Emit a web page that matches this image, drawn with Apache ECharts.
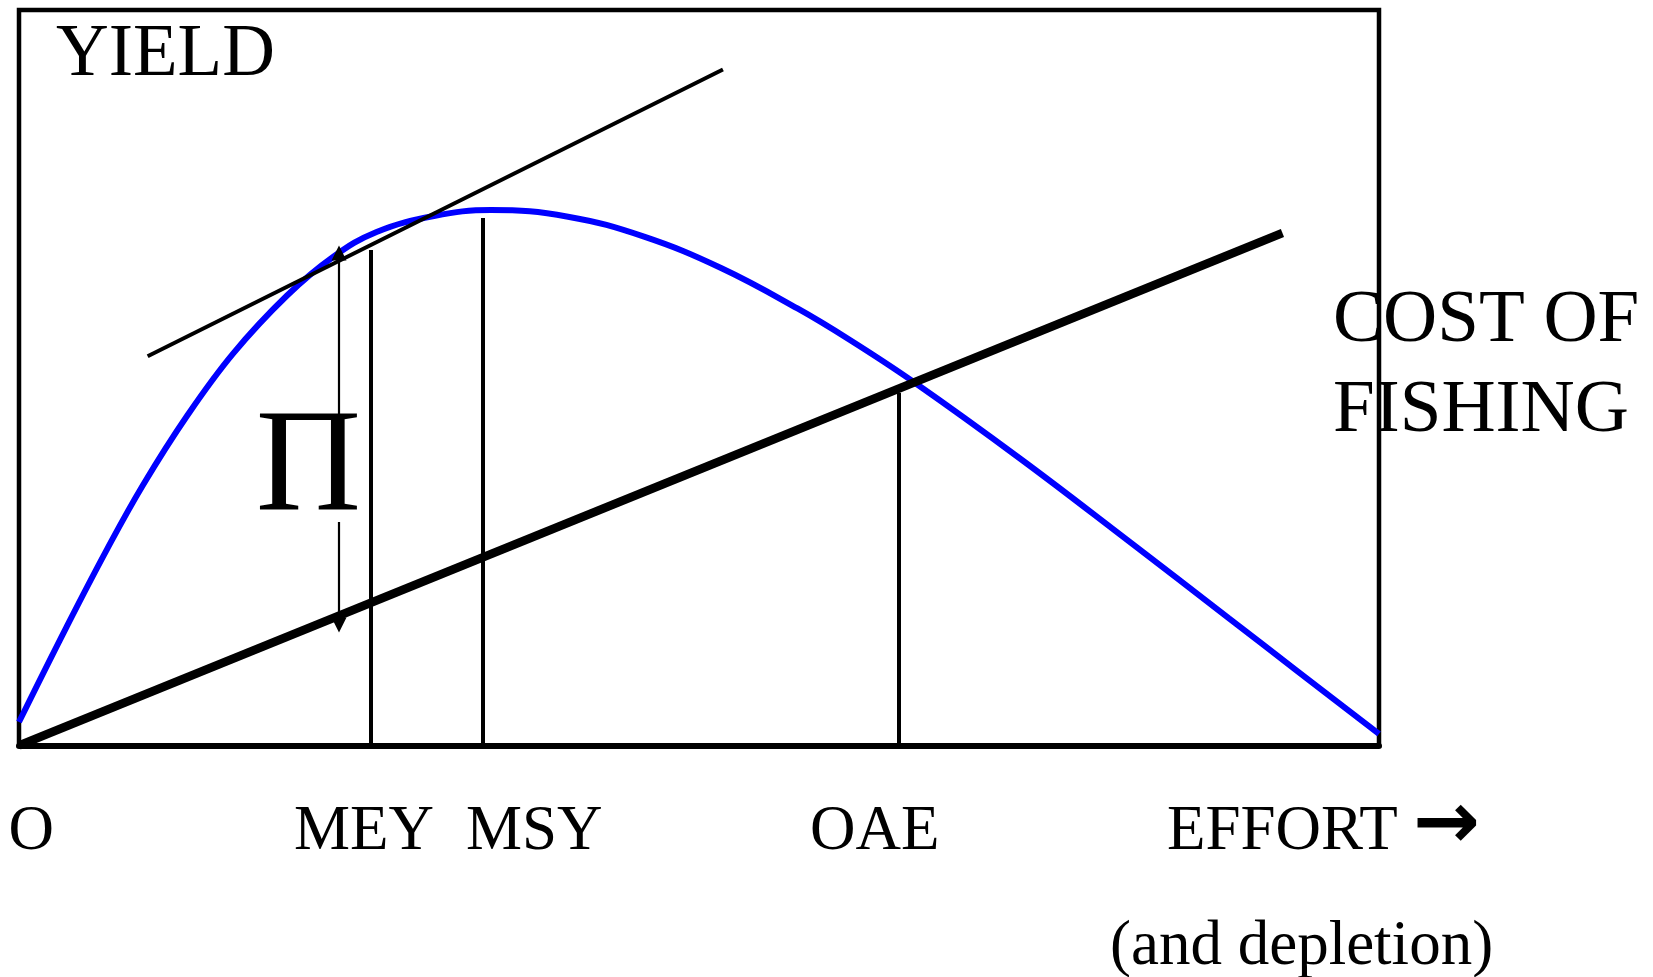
<!DOCTYPE html>
<html>
<head>
<meta charset="utf-8">
<script src="https://cdn.jsdelivr.net/npm/echarts@6/dist/echarts.min.js"></script>
<style>
html,body{margin:0;padding:0;background:#fff;}
#chart{width:1653px;height:977px;}
</style>
</head>
<body>
<div id="chart"></div>
<script>
// ---- data (effort on x 0..100, yield / cost on y 0..100) ----
const yieldEffort = [0, 3.51, 6.45, 9.12, 12.35, 15.74, 19.71, 23.09, 26.29, 30.51, 34.71, 40.37, 45.96, 51.62, 57.24, 61.1, 65.79, 73.75, 81.36, 88.97, 94.04, 100];
const yieldValues = [3.2, 16.17, 26.6, 35.42, 44.8, 53.28, 61.18, 66.42, 69.82, 71.99, 72.81, 71.9, 69.18, 64.92, 59.42, 55.13, 49.42, 38.82, 28.12, 17.28, 10.06, 1.58];

const costEffort = [0, 92.9];
const costValues = [0, 69.68];

const tangentEffort = [9.46, 51.76];
const tangentValues = [52.92, 91.9];

const markerNames = ['MEY', 'MSY', 'OAE'];
const markerEffort = [25.88, 34.12, 64.71];
const markerTop = [67.37, 71.72, 47.93];

const profitArrowEffort = 23.53;
const profitArrowUp = [44.94, 66.96];   // from, to (arrow at "to")
const profitArrowDown = [30.39, 16.38];

const bottomLabels = ['O', 'MEY', 'MSY', 'OAE', 'EFFORT'];
const noteLabel = '(and depletion)';
const costLabel = ['COST OF', 'FISHING'];
const yLabel = 'YIELD';
const profitLabel = 'Π';

// ---- build ----
const zip = (xs, ys) => xs.map((x, i) => [x, ys[i]]);
const serif = '"Liberation Serif","Times New Roman",serif';

const chart = echarts.init(document.getElementById('chart'), null, {renderer: 'canvas'});

const labelX = [8.5, 294, 466, 810, 1167];

const graphics = [];
function txt(text, x, baseline, size, align, font) {
  graphics.push({
    type: 'text', z: 50,
    style: {
      text: text, x: x, y: baseline + 0.22 * size, fill: '#000',
      font: font || (size + 'px ' + serif),
      textAlign: align || 'left', textVerticalAlign: 'bottom'
    }
  });
}

chart.setOption({
  animation: false,
  backgroundColor: '#fff',
  grid: {left: 19, top: 10, width: 1360, height: 735.5, show: true, borderColor: '#000', borderWidth: 4.5, containLabel: false},
  xAxis: {
    type: 'value', min: 0, max: 100,
    axisLine: {show: true, onZero: false, lineStyle: {color: '#000', width: 6}},
    axisTick: {show: false}, axisLabel: {show: false}, splitLine: {show: false}
  },
  yAxis: {
    type: 'value', min: 0, max: 100,
    axisLine: {show: false}, axisTick: {show: false}, axisLabel: {show: false}, splitLine: {show: false}
  },
  series: [
    {
      name: 'Yield', type: 'line', data: zip(yieldEffort, yieldValues), smooth: 0.4,
      showSymbol: false, lineStyle: {color: '#0000ff', width: 6}, z: 3
    },
    {
      name: 'Cost of fishing', type: 'line', data: zip(costEffort, costValues),
      showSymbol: false, lineStyle: {color: '#000', width: 8.5}, z: 4
    },
    {
      name: 'Tangent', type: 'line', data: zip(tangentEffort, tangentValues),
      showSymbol: false, lineStyle: {color: '#000', width: 4}, z: 4
    },
    {
      name: 'Markers', type: 'lines', coordinateSystem: 'cartesian2d', z: 4,
      lineStyle: {color: '#000', width: 4, opacity: 1},
      data: markerNames.map((n, i) => ({name: n, coords: [[markerEffort[i], 0], [markerEffort[i], markerTop[i]]]}))
    },
    {
      name: 'Profit', type: 'lines', coordinateSystem: 'cartesian2d', z: 5,
      symbol: ['none', 'triangle'], symbolSize: [11, 15],
      lineStyle: {color: '#000', width: 2.2, opacity: 1},
      data: [
        {coords: [[profitArrowEffort, profitArrowUp[0]], [profitArrowEffort, profitArrowUp[1]]]},
        {coords: [[profitArrowEffort, profitArrowDown[0]], [profitArrowEffort, profitArrowDown[1]]]}
      ]
    }
  ]
});

txt(yLabel, 56, 76, 73);
txt(costLabel[0], 1333, 342, 75);
txt(costLabel[1], 1333, 432, 75);
txt(profitLabel, 308.5, 512, 146, 'center');
bottomLabels.forEach((l, i) => txt(l, labelX[i], 850, 63));
txt(noteLabel, 1110, 965, 63);
txt('→', 1413, 850, 80, 'left', 'bold 80px "DejaVu Sans"');
chart.setOption({graphic: graphics});
</script>
</body>
</html>
